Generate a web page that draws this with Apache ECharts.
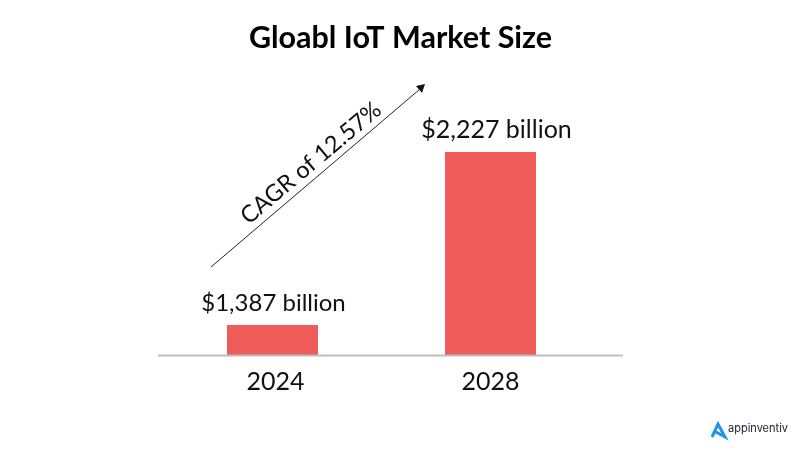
<!DOCTYPE html>
<html lang="en" style="height: 100%">
<head>
  <meta charset="utf-8">
</head>
<body style="height: 100%; margin: 0; background: #fff">
  <div id="container" style="height: 100%"></div>

  <script type="text/javascript" src="https://cdn.jsdelivr.net/npm/echarts@6/dist/echarts.min.js"></script>

  <script type="text/javascript">
    var years = ['2024', '2028'];
    var marketSize = [1387, 2227];
    var titleText = 'Gloabl IoT Market Size';
    var cagrText = 'CAGR of 12.57%';
    var font = 'Lato';

    var myChart = echarts.init(document.getElementById('container'), null, { renderer: 'canvas' });

    var option = {
      animation: false,
      backgroundColor: '#fff',
      title: {
        text: titleText,
        left: 'center',
        top: 18,
        textStyle: { fontFamily: font, fontSize: 30.5, fontWeight: 'bold', color: '#000' }
      },
      grid: { left: 163.5, width: 436, top: 152, bottom: 96 },
      xAxis: {
        type: 'category',
        data: years,
        axisLine: { show: false },
        axisTick: { show: false },
        axisLabel: {
          margin: 14,
          fontFamily: font,
          fontSize: 25,
          color: '#111',
          // first label sits a little right of its bar in the original
          formatter: function (v, i) {
            return i === 0 ? '{first|' + v + '}' : v;
          },
          rich: {
            first: { fontFamily: font, fontSize: 25, color: '#111', padding: [0, 0, 0, 6] }
          }
        }
      },
      // the axis is cut off well above zero in the original
      yAxis: { type: 'value', min: 1241, max: 2227, show: false },
      series: [
        {
          type: 'bar',
          data: [
            { value: marketSize[0], label: { fontSize: 24, offset: [1, 0] } },
            { value: marketSize[1], label: { fontSize: 25, offset: [6, 0] } }
          ],
          barWidth: 91,
          itemStyle: { color: '#ee5b58' },
          label: {
            show: true,
            position: 'top',
            distance: 10,
            fontFamily: font,
            color: '#111',
            formatter: function (p) {
              return '$' + p.value.toLocaleString('en-US') + ' billion';
            }
          }
        }
      ],
      graphic: [
        // baseline
        { type: 'line', z: 5, shape: { x1: 158, y1: 355.5, x2: 623, y2: 355.5 }, style: { stroke: '#bdbdbd', lineWidth: 2 } },
        // arrow
        { type: 'line', shape: { x1: 211, y1: 267, x2: 420, y2: 89 }, style: { stroke: '#222', lineWidth: 1 } },
        { type: 'polygon', shape: { points: [[425, 84], [422, 93], [416, 86]] }, style: { fill: '#111' } },
        {
          type: 'text',
          x: 311, y: 163, rotation: 40 * Math.PI / 180,
          style: { text: cagrText, fontFamily: font, fontSize: 23.5, fill: '#111', align: 'center', verticalAlign: 'middle' }
        },
        // logo
        {
          type: 'polyline',
          shape: { points: [[712, 437], [718, 424], [725, 437], [716, 432]] },
          style: { stroke: '#1e96e8', fill: null, lineWidth: 3 }
        },
        {
          type: 'text', x: 728, y: 429,
          style: { text: 'appinventiv', fontFamily: 'Inter', fontSize: 11, fill: '#223', verticalAlign: 'middle' }
        }
      ]
    };

    myChart.setOption(option);
    window.addEventListener('resize', myChart.resize);
  </script>
</body>
</html>
